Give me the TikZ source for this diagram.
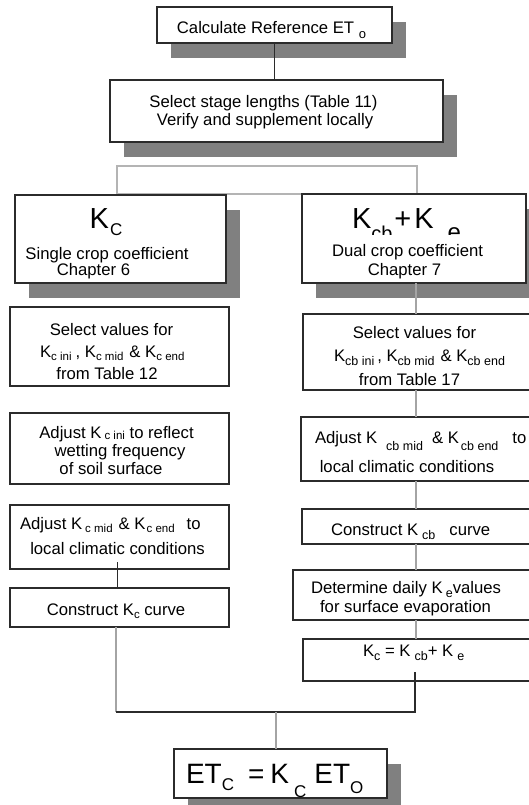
\documentclass[tikz,border=0pt]{standalone}
\usepackage{fontspec}
\setmainfont{Liberation Sans}
\usetikzlibrary{shadows,calc}
\pgfdeclarelayer{bg}
\pgfsetlayers{bg,main}
\definecolor{boxline}{HTML}{2B2B2B}
\definecolor{conngray}{HTML}{A4A4A4}
\definecolor{shadowgray}{HTML}{808080}
\definecolor{splitgray}{HTML}{B4B4B4}
\newcommand\fs[2]{{\fontsize{#1}{#1}\selectfont #2}}
\newcommand\lsub[1]{\raisebox{-3.5pt}{\fontsize{11.5}{11.5}\selectfont #1}}
\newcommand\rsub[1]{\raisebox{-4pt}{\fontsize{12.5}{12.5}\selectfont #1}}
\begin{document}
\begin{tikzpicture}[x=1pt,y=-1pt,
  box/.style={draw=boxline, line width=1.4pt, fill=white, inner sep=0pt, outer sep=0pt},
  shad/.style={drop shadow={shadow xshift=13.5pt, shadow yshift=-15pt, fill=shadowgray, opacity=1}},
  txt/.style={inner sep=0pt, outer sep=0pt, anchor=base, font=\fontsize{16.7}{18}\selectfont, text=black},
  txtw/.style={txt, anchor=base west},
  dcon/.style={draw=boxline, line width=1.4pt},
  gcon/.style={draw=conngray, line width=1.8pt}]
\useasboundingbox[fill=white] (0,0) rectangle (529,805);

% split bracket rectangle
\node[draw=splitgray, line width=1.6pt, minimum width=300pt, minimum height=28pt, inner sep=0pt, outer sep=0pt] (split) at (267,180) {};

% boxes
\node[box,shad,minimum width=235pt,minimum height=36pt] (top) at (274.5,25) {};
\node[box,shad,minimum width=333pt,minimum height=62pt] (stage) at (276.5,111) {};
\node[box,shad,minimum width=211pt,minimum height=88pt] (kc) at (120.5,239) {};
\node[box,shad,minimum width=224pt,minimum height=89pt] (kcb) at (414,238.5) {};
\node[box,minimum width=219pt,minimum height=79pt] (selL) at (119.5,346.5) {};
\node[box,minimum width=219pt,minimum height=71pt] (iniL) at (119.5,448.5) {};
\node[box,minimum width=219pt,minimum height=64pt] (midL) at (119.5,537) {};
\node[box,minimum width=219pt,minimum height=39pt] (consL) at (119.5,607.5) {};
\node[box,minimum width=242pt,minimum height=76pt] (selR) at (424,352) {};
\node[box,minimum width=244pt,minimum height=64pt] (adjR) at (423,449) {};
\node[box,minimum width=243pt,minimum height=35pt] (consR) at (423.5,526.5) {};
\node[box,minimum width=252pt,minimum height=50pt] (detR) at (419,595) {};
\node[box,minimum width=242pt,minimum height=42pt] (kcR) at (424,660) {};
\node[box,shad,minimum width=213pt,minimum height=49pt] (etc) at (280.5,773.5) {};

% helper coordinates
\coordinate (lx) at (117.5,0);
\coordinate (rx) at (416,0);
\coordinate (jL) at (116,712);
\coordinate (jR) at (415,712);
\coordinate (jC) at (276,712);

% connectors hidden under shadows
\begin{pgfonlayer}{bg}
\draw[dcon] (stage.south) -- (stage.south |- split.north);
\draw[dcon] (lx |- kc.south) -- (lx |- selL.north);
\draw[dcon] (lx |- selL.south) -- (lx |- iniL.north);
\end{pgfonlayer}

% other connectors
\draw[dcon] (top.south) -- (top.south |- stage.north);
\draw[dcon] ($(lx |- midL.south)+(0,-7)$) -- (lx |- consL.north);
\draw[gcon] (jL |- consL.south) -- (jL);
\draw[dcon] ($(jR |- kcR.south)+(0,-9)$) -- (jR) -- (jL);
\draw[gcon] (jC) -- (jC |- etc.north);
\draw[gcon] (rx |- kcb.south) -- (rx |- selR.north);
\draw[gcon] (rx |- selR.south) -- (rx |- adjR.north);
\draw[gcon] (rx |- adjR.south) -- (rx |- consR.north);
\draw[gcon] (rx |- consR.south) -- (rx |- detR.north);
\draw[gcon] (rx |- detR.south) -- (rx |- kcR.north);

% texts
\node[txt] (t1) at (271.5,34) {Calculate Reference ET \raisebox{-5pt}{\fs{13}{o}}};
\node[txt] (t2) at (263.5,107.5) {Select stage lengths (Table 11)};
\node[txt] (t3) at (265,126) {Verify and supplement locally};

\node[txt] (t4) at (106,228) {\fs{29}{K}\hspace{1pt}\raisebox{-7pt}{\fs{17}{C}}};
\node[txt] (t5) at (107,259) {Single crop coefficient};
\node[txt] (t6) at (93.5,275) {Chapter 6};

\begin{scope}
\clip (340,196) rectangle (485,234);
\node[txtw] (t7) at (352,228) {\fs{29}{K}\raisebox{-12pt}{\fs{20}{cb}}\hspace{2pt}\fs{29}{+}\hspace{3pt}\fs{29}{K}\hspace{14pt}\raisebox{-12pt}{\fs{24}{e}}};
\end{scope}
\node[txt] (t8) at (407.5,256.7) {Dual crop coefficient};
\node[txt] (t9) at (404.5,275) {Chapter 7};

\node[txt] (t10) at (111.5,335) {Select values for};
\node[txtw] (t11) at (40,357) {K\lsub{c ini}\hspace{4pt}, K\lsub{c mid}\hspace{6pt}\& K\lsub{c end}};
\node[txt] (t12) at (107,379) {from Table 12};

\node[txt] (t13) at (116.5,438) {Adjust K\hspace{3pt}\raisebox{-1.5pt}{\fs{11.5}{c ini}} to reflect};
\node[txt] (t14) at (120,456) {wetting frequency};
\node[txt] (t15) at (111,474) {of soil surface};

\node[txtw] (t16) at (20,529) {Adjust K\hspace{3pt}\lsub{c mid}\hspace{6pt}\& K\hspace{1pt}\lsub{c end}\hspace{12pt}to};
\node[txt] (t17) at (117.5,554) {local climatic conditions};

\node[txt] (t18) at (116,615) {Construct K\lsub{c} curve};

\node[txt] (t19) at (414.5,338) {Select values for};
\node[txtw] (t20) at (334,361) {K\rsub{cb ini}\hspace{3pt}, K\rsub{cb mid}\hspace{6pt}\& K\rsub{cb end}};
\node[txt] (t21) at (409.5,385) {from Table 17};

\node[txtw] (t22) at (315,443) {Adjust K\hspace{9pt}\raisebox{-7pt}{\fs{12.5}{cb mid}}\hspace{9pt}\& K\hspace{2pt}\raisebox{-7pt}{\fs{12.5}{cb end}}\hspace{14pt}to};
\node[txt] (t23) at (407,472) {local climatic conditions};

\node[txtw] (t24) at (331,535) {Construct K\hspace{4pt}\rsub{cb}\hspace{14pt}curve};

\node[txtw] (t25) at (311,593) {Determine daily K\hspace{3pt}\rsub{e}values};
\node[txt] (t26) at (405.5,612) {for surface evaporation};

\node[txtw] (t27) at (363,656) {K\rsub{c} = K\hspace{4pt}\rsub{cb}+ K\hspace{4pt}\rsub{e}};

\node[txtw] (t28) at (186,783) {\fs{28}{ET}\raisebox{-7pt}{\fs{17}{C}}\hspace{14pt}\fs{28}{=}\hspace{6pt}\fs{28}{K}\hspace{5pt}\raisebox{-14pt}{\fs{17}{C}}\hspace{8pt}\fs{28}{ET}\raisebox{-10pt}{\fs{17}{O}}};
\end{tikzpicture}
\end{document}
